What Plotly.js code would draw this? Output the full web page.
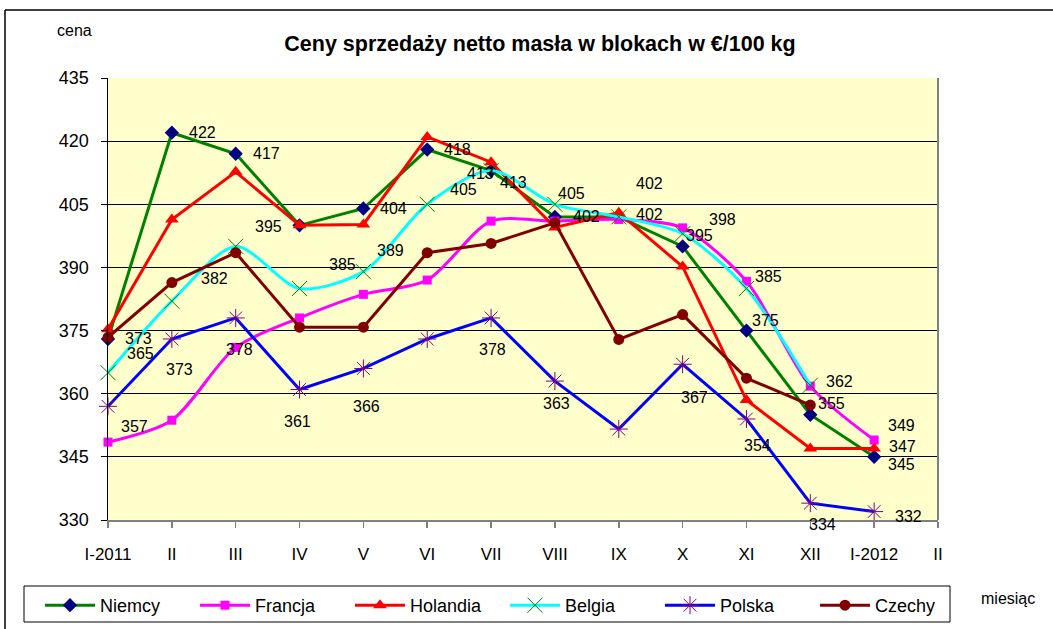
<!DOCTYPE html>
<html>
<head>
<meta charset="utf-8">
<script src="https://cdn.plot.ly/plotly-3.0.1.min.js"></script>
<style>
  html, body { margin: 0; padding: 0; background: #ffffff; }
  #chart { width: 1053px; height: 629px; }
</style>
</head>
<body>
<div id="chart"></div>
<script>
// ---- data ----
const months = ["I-2011", "II", "III", "IV", "V", "VI", "VII", "VIII", "IX", "X", "XI", "XII", "I-2012", "II "];
const niemcy  = [373, 422, 417, 400, 404, 418, 413, 402, 402, 395, 375, 355, 345];
const francja = [348.5, 353.7, 371, 378, 383.6, 387, 401, 401, 401.4, 399.4, 386.7, 361.8, 349];
const holandia= [375.3, 401.4, 412.7, 400, 400.2, 421, 415, 399.5, 403, 390.2, 358.5, 347, 347];
const belgia  = [365, 382, 395, 385, 389, 405, 413, 405, 402, 398, 385, 362, null];
const polska  = [357, 373, 378, 361, 366, 373, 378, 363, 351.6, 367, 354, 334, 332];
const czechy  = [373.4, 386.4, 393.5, 375.8, 375.8, 393.5, 395.7, 400.6, 372.9, 378.8, 363.7, 357.3];
const seriesNames = ["Niemcy", "Francja", "Holandia", "Belgia", "Polska", "Czechy"];
const seriesValues = { Niemcy: niemcy, Francja: francja, Holandia: holandia, Belgia: belgia, Polska: polska, Czechy: czechy };

// which points carry a data label, with label offset (px right, px down)
const labelSpec = [
  ["Niemcy",0,30,0],["Niemcy",1,31,0],["Niemcy",2,31,0],["Niemcy",4,30,0],["Niemcy",5,30,0],
  ["Niemcy",6,22,12],["Niemcy",7,32,0],["Niemcy",8,31,-2],["Niemcy",9,17,-11],["Niemcy",10,19,-10],
  ["Niemcy",11,21,-11],["Niemcy",12,27,8],
  ["Belgia",0,32,-19],["Belgia",1,43,-23],["Belgia",2,33,-20],["Belgia",3,43,-24],["Belgia",4,27,-21],
  ["Belgia",5,36,-15],["Belgia",6,-11,3],["Belgia",7,17,-11],["Belgia",8,31,-33],["Belgia",9,40,-14],
  ["Belgia",10,22,-12],["Belgia",11,29,-4],
  ["Polska",0,26,20],["Polska",1,8,31],["Polska",2,4,32],["Polska",3,-2,32],["Polska",4,3,38],
  ["Polska",6,1,32],["Polska",7,2,22],["Polska",9,12,33],["Polska",10,11,27],["Polska",11,12,21],["Polska",12,34,5],
  ["Francja",12,27,-15],["Holandia",12,28,-2]
];

const styles = {
  Niemcy:  {line:{color:"#008000", width:3}, marker:{symbol:"diamond", size:11, color:"#000080"}},
  Francja: {line:{color:"#FF00FF", width:3, shape:"spline", smoothing:0.8}, marker:{symbol:"square", size:9, color:"#FF00FF"}},
  Holandia:{line:{color:"#FF0000", width:3}, marker:{symbol:"triangle-up", size:12, color:"#FF0000"}},
  Belgia:  {line:{color:"#00FFFF", width:3, shape:"spline", smoothing:0.8}, marker:{symbol:"x-thin-open", size:15, color:"#008000", line:{color:"#008000", width:1}}},
  Polska:  {line:{color:"#0000FF", width:3}, marker:{symbol:"asterisk-open", size:15, color:"#800080", line:{color:"#800080", width:1}}},
  Czechy:  {line:{color:"#800000", width:3}, marker:{symbol:"circle", size:11, color:"#800000"}}
};

const traces = seriesNames.map(name => ({
  type: "scatter",
  mode: "lines+markers",
  name: name,
  x: months.slice(0, seriesValues[name].length),
  y: seriesValues[name],
  line: styles[name].line,
  marker: styles[name].marker,
  cliponaxis: false,
  connectgaps: false,
  hoverinfo: "skip"
}));

const FONT = "Liberation Sans, Arial, sans-serif";

const annotations = labelSpec.map(([name, i, dx, dy]) => ({
  x: months[i], y: seriesValues[name][i], xref: "x", yref: "y",
  text: String(Math.round(seriesValues[name][i])),
  showarrow: false, xshift: dx, yshift: -dy,
  xanchor: "center", yanchor: "middle",
  font: {family: FONT, size: 16, color: "#000"}
}));

// px -> paper helpers
const L = 108, R = 938, T = 78, B = 520;
const px = v => (v - L) / (R - L);
const py = v => (B - v) / (B - T);

annotations.push({xref:"paper", yref:"paper", x: px(74), y: py(31), xanchor:"center", yanchor:"middle",
  text:"cena", showarrow:false, font:{family:FONT, size:16, color:"#000"}});
annotations.push({xref:"paper", yref:"paper", x: px(1008), y: py(598), xanchor:"center", yanchor:"middle",
  text:"miesiąc", showarrow:false, font:{family:FONT, size:16, color:"#000"}});

const shapes = [
  {type:"line", xref:"paper", yref:"paper", x0:px(5), x1:px(5), y0:py(10), y1:py(640), line:{color:"#000", width:1.5}},
  {type:"line", xref:"paper", yref:"paper", x0:px(5), x1:px(1060), y0:py(10), y1:py(10), line:{color:"#000", width:1.5}},
  {type:"line", xref:"paper", yref:"paper", x0:1, x1:1, y0:0, y1:1, line:{color:"#808080", width:2}, layer:"above"},
  {type:"rect", xref:"paper", yref:"paper", x0:px(24), x1:px(950), y0:py(586), y1:py(622), line:{color:"#000", width:1}}
];

const layout = {
  width: 1053, height: 629,
  margin: {l: L, r: 1053 - R, t: T, b: 629 - B, pad: 0, autoexpand: false},
  paper_bgcolor: "#ffffff",
  plot_bgcolor: "#FFFFCC",
  font: {family: FONT, size: 17, color: "#000"},
  title: {
    text: "<b>Ceny sprzedaży netto masła w blokach w €/100 kg</b>",
    x: 540/1053, xanchor: "center", xref: "container",
    y: 1 - 43/629, yanchor: "middle", yref: "container",
    font: {family: FONT, size: 21.5, color: "#000"}
  },
  showlegend: true,
  legend: {
    orientation: "h",
    x: px(40), y: py(587), xanchor: "left", yanchor: "top",
    borderwidth: 0, bgcolor: "rgba(0,0,0,0)",
    font: {family: FONT, size: 18, color: "#000"},
    entrywidth: 90, entrywidthmode: "pixels",
    itemwidth: 50, traceorder: "normal"
  },
  xaxis: {
    type: "category",
    categoryorder: "array", categoryarray: months,
    tickvals: months, ticktext: months.map(m => m.trim()),
    range: [0, 13],
    showgrid: false, zeroline: false,
    showline: true, linecolor: "#808080", linewidth: 2,
    ticks: "outside", ticklen: 6, tickcolor: "#808080", tickwidth: 1.5,
    ticklabelstandoff: 12,
    tickfont: {family: FONT, size: 17, color: "#000"},
    fixedrange: true
  },
  yaxis: {
    range: [330, 435], dtick: 15, tick0: 330,
    showgrid: true, gridcolor: "#000", gridwidth: 1,
    zeroline: false,
    showline: true, linecolor: "#000", linewidth: 1.5,
    ticks: "outside", ticklen: 6, tickcolor: "#000",
    ticklabelstandoff: 8,
    tickfont: {family: FONT, size: 18, color: "#000"},
    fixedrange: true
  },
  annotations: annotations,
  shapes: shapes
};

Plotly.newPlot("chart", traces, layout, {displayModeBar: false, staticPlot: true});
</script>
</body>
</html>
